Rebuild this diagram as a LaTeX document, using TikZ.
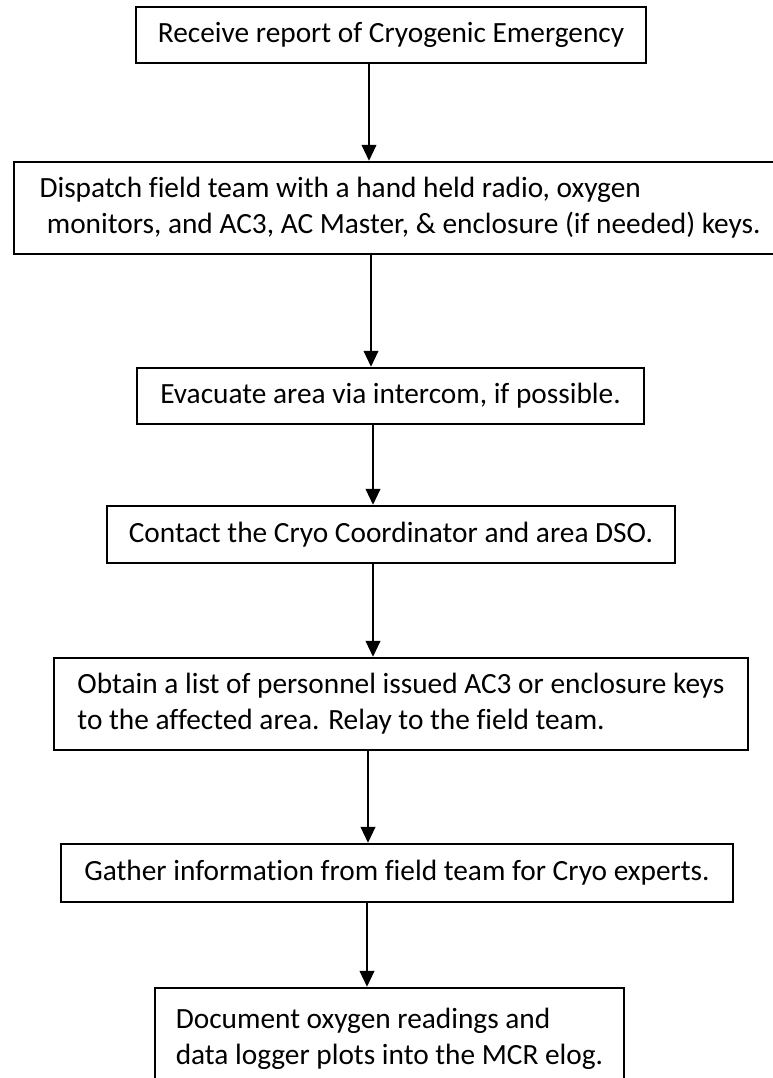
\documentclass[tikz,border=0pt]{standalone}
\usepackage{fontspec}
\setmainfont{Carlito}[Ligatures={NoCommon}]
\usetikzlibrary{arrows.meta}
\begin{document}
\begin{tikzpicture}[x=0.75pt,y=-0.75pt,
  box/.style={draw=black,line width=1.8pt,rectangle,inner sep=0pt,
    font=\fontsize{22}{27}\selectfont,align=center},
  lbox/.style={box,align=left},
  arr/.style={line width=1.4pt,-{Triangle[width=11pt,length=12pt]}}]
\useasboundingbox (0,0) rectangle (772,1078);
\fill[white] (0,0) rectangle (772,1078);
\node[box,minimum width=382.5pt,minimum height=42pt] (b1) at (391,35)
  {Receive report of Cryogenic Emergency};
\node[lbox,minimum width=579pt,minimum height=69pt] (b2) at (400,208)
  {Dispatch field team with a hand held radio, oxygen\\\hspace*{0.25em}monitors, and AC3, AC Master, \& enclosure (if needed) keys.};
\node[box,minimum width=380.25pt,minimum height=42pt] (b3) at (390.5,396)
  {Evacuate area via intercom, if possible.};
\node[box,minimum width=426pt,minimum height=42.75pt] (b4) at (391,534.5)
  {Contact the Cryo Coordinator and area DSO.};
\node[lbox,minimum width=520.5pt,minimum height=69pt] (b5) at (401,704)
  {Obtain a list of personnel issued AC3 or enclosure keys\\to the affected area. Relay to the field team.};
\node[box,minimum width=504pt,minimum height=43.5pt] (b6) at (397,873)
  {Gather information from field team for Cryo experts.};
\node[lbox,minimum width=351.75pt,minimum height=76.5pt] (b7) at (389.5,1039)
  {Document oxygen readings and\\data logger plots into the MCR elog.};
\coordinate (x1) at (369,0);
\coordinate (x2) at (371,0);
\coordinate (x3) at (373,0);
\coordinate (x4) at (373,0);
\coordinate (x5) at (368,0);
\coordinate (x6) at (367,0);
\draw[arr] (b1.south -| x1) -- (b2.north -| x1);
\draw[arr] (b2.south -| x2) -- (b3.north -| x2);
\draw[arr] (b3.south -| x3) -- (b4.north -| x3);
\draw[arr] (b4.south -| x4) -- (b5.north -| x4);
\draw[arr] (b5.south -| x5) -- (b6.north -| x5);
\draw[arr] (b6.south -| x6) -- (b7.north -| x6);
\end{tikzpicture}
\end{document}
